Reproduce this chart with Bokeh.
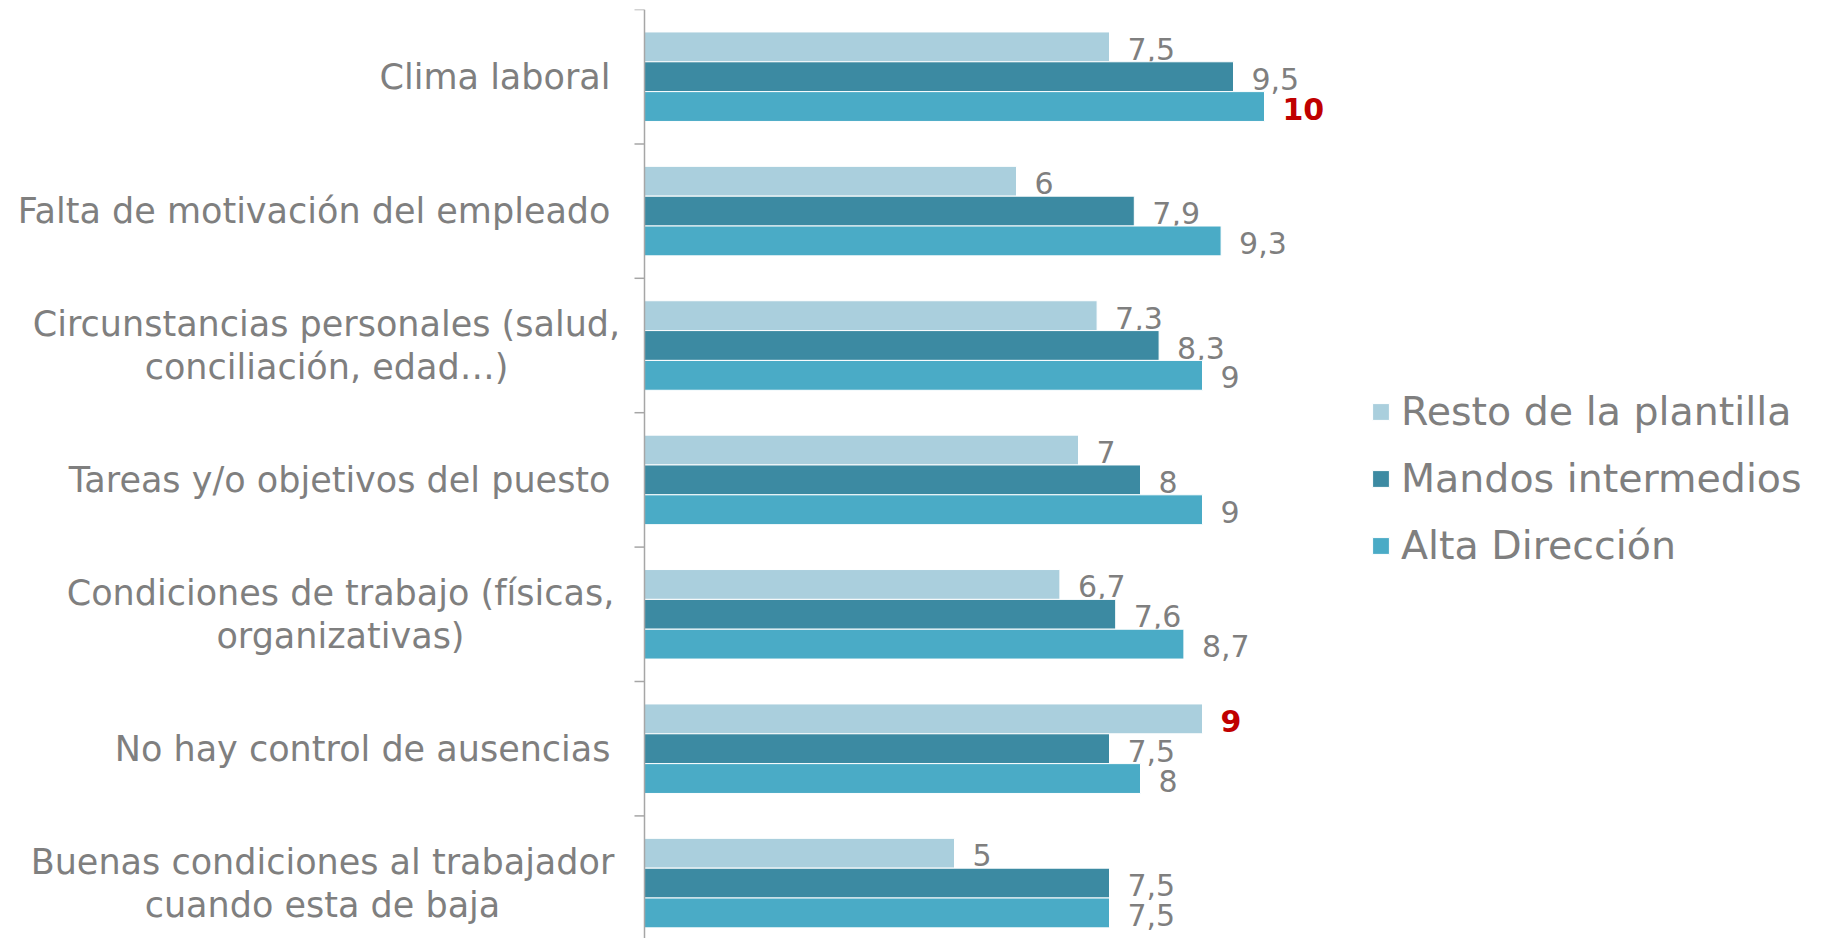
from bokeh.plotting import figure
from bokeh.models import ColumnDataSource, Legend, LegendItem, Span
from bokeh.embed import file_html
from bokeh.resources import INLINE
from bokeh.core.properties import value

categories = [
    "Clima laboral",
    "Falta de motivación del empleado",
    "Circunstancias personales (salud,\nconciliación, edad…)",
    "Tareas y/o objetivos del puesto",
    "Condiciones de trabajo (físicas,\norganizativas)",
    "No hay control de ausencias",
    "Buenas condiciones al trabajador\ncuando esta de baja",
]
resto = [7.5, 6, 7.3, 7, 6.7, 9, 5]
mandos = [9.5, 7.9, 8.3, 8, 7.6, 7.5, 7.5]
alta = [10, 9.3, 9, 9, 8.7, 8, 7.5]
series_names = ["Resto de la plantilla", "Mandos intermedios", "Alta Dirección"]
# highlighted (series index, category index)
highlighted = [(2, 0), (0, 5)]

colors = ["#aacfdd", "#3c8aa2", "#4aabc6"]
FONT = "DejaVu Sans"
GREY = "#7f7f7f"
AXIS_GREY = "#a6a6a6"

W, H = 1813, 938
AXIS_X = 644          # px of the value-axis origin
TOP = 9
band_px = 134.4
frame_h = H - TOP
n = len(categories)
y_end = n
y_start = n - frame_h / band_px
ppu = 62.0            # px per unit on the value scale
x_start = -AXIS_X / ppu
x_end = (W - AXIS_X) / ppu

p = figure(width=W, height=H, output_backend="svg", toolbar_location=None,
           x_range=(x_start, x_end), y_range=(y_start, y_end),
           min_border_left=0, min_border_top=TOP, min_border_right=0, min_border_bottom=0,
           x_axis_location=None, y_axis_location=None)
p.outline_line_color = None
p.grid.visible = False
p.background_fill_color = "white"
p.border_fill_color = "white"

centers = [n - i - 0.5 for i in range(n)]
bar_h = 0.222
offsets = [bar_h, 0.0, -bar_h]
all_series = [resto, mandos, alta]

renderers = []
for s, vals in enumerate(all_series):
    ys = [c + offsets[s] for c in centers]
    labels = [f"{v:g}".replace(".", ",") for v in vals]
    lab_color = []
    lab_style = []
    for i in range(n):
        if (s, i) in highlighted:
            lab_color.append("#c00000")
            lab_style.append("bold")
        else:
            lab_color.append(GREY)
            lab_style.append("normal")
    src = ColumnDataSource(dict(y=ys, v=vals, lab=labels, lc=lab_color, ls=lab_style))
    r = p.hbar(y="y", right="v", left=0, height=bar_h, source=src,
               fill_color=colors[s], line_color="white", line_width=1)
    renderers.append(r)
    p.text(x="v", y="y", text="lab", source=src, x_offset=18, y_offset=2,
           text_color="lc", text_font_style="ls", text_font=value(FONT),
           text_font_size="30px", text_baseline="middle", text_align="left")

# category axis: line, boundary ticks and labels
p.add_layout(Span(location=0, dimension="height", line_color=AXIS_GREY, line_width=1.5))
boundaries = list(range(0, n + 1))
p.segment(x0=[-10 / ppu] * len(boundaries), x1=[0] * len(boundaries),
          y0=boundaries, y1=boundaries, line_color=AXIS_GREY, line_width=1.5)

# centre (px left of axis) for two-line labels; single-line labels are right-aligned
two_line_center_px = {2: 318, 4: 304, 6: 322}
lab_x, lab_align = [], []
for i in range(n):
    if "\n" in categories[i]:
        lab_x.append(-two_line_center_px[i] / ppu)
        lab_align.append("center")
    else:
        lab_x.append(-34 / ppu)
        lab_align.append("right")
cat_src = ColumnDataSource(dict(x=lab_x, y=centers, t=categories, a=lab_align))
p.text(x="x", y="y", text="t", source=cat_src, text_align="a", text_baseline="middle",
       text_font=value(FONT), text_font_size="35px", text_color=GREY, text_line_height=1.08)

legend = Legend(items=[LegendItem(label=series_names[k], renderers=[renderers[k]]) for k in range(3)],
                location=(AXIS_X + 726, 370))
legend.label_text_font = FONT
legend.label_text_font_size = "39.5px"
legend.label_text_color = GREY
legend.glyph_width = 21
legend.glyph_height = 21
legend.label_standoff = 10
legend.spacing = 21
legend.padding = 0
legend.margin = 0
legend.border_line_color = None
legend.background_fill_alpha = 0
p.add_layout(legend)

open("out.html", "w").write(file_html(p, INLINE))
